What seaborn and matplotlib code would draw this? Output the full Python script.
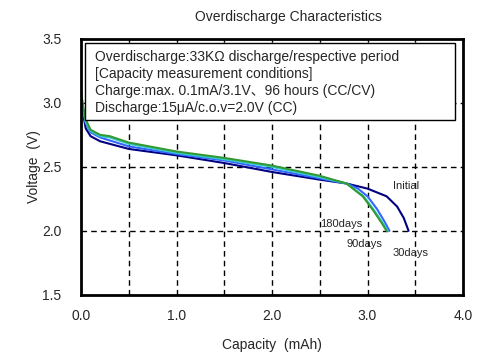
import numpy as np
import pandas as pd
import matplotlib
matplotlib.use("Agg")
import matplotlib.pyplot as plt
import seaborn as sns

# capacity (mAh) / voltage (V)
cap_initial = [0, 0.02, 0.05, 0.1, 0.2, 0.5, 1.0, 1.5, 2.0, 2.5, 2.78, 3.0, 3.2, 3.31, 3.38, 3.43]
v_initial = [3.05, 2.92, 2.80, 2.74, 2.70, 2.64, 2.59, 2.53, 2.46, 2.40, 2.37, 2.33, 2.27, 2.19, 2.10, 2.0]
cap_30 = [0, 0.02, 0.05, 0.1, 0.2, 0.5, 1.0, 1.5, 2.0, 2.5, 2.78, 2.9, 3.0, 3.1, 3.18, 3.23]
v_30 = [3.08, 2.95, 2.84, 2.77, 2.73, 2.66, 2.60, 2.55, 2.48, 2.41, 2.37, 2.33, 2.27, 2.17, 2.07, 2.0]
cap_90 = [0, 0.02, 0.05, 0.1, 0.2, 0.3, 0.5, 1.0, 1.5, 2.0, 2.5, 2.78, 2.96, 3.07, 3.16, 3.21]
v_90 = [3.09, 2.96, 2.85, 2.78, 2.74, 2.73, 2.68, 2.61, 2.56, 2.50, 2.42, 2.37, 2.27, 2.16, 2.06, 2.0]
cap_180 = [0, 0.02, 0.05, 0.1, 0.2, 0.3, 0.5, 1.0, 1.5, 2.0, 2.5, 2.78, 2.95, 3.06, 3.15, 3.2]
v_180 = [3.1, 2.98, 2.87, 2.79, 2.75, 2.74, 2.69, 2.62, 2.57, 2.51, 2.43, 2.37, 2.27, 2.16, 2.06, 2.0]

series = ["Initial", "30days", "90days", "180days"]
colors = ["#000080", "#3366ff", "#33cccc", "#339933"]
label_x = [3.40, 3.45, 2.97, 2.72]
label_y = [2.35, 1.83, 1.90, 2.05]

df = pd.concat([
    pd.DataFrame({"cap": cap_initial, "v": v_initial, "s": "Initial"}),
    pd.DataFrame({"cap": cap_30, "v": v_30, "s": "30days"}),
    pd.DataFrame({"cap": cap_90, "v": v_90, "s": "90days"}),
    pd.DataFrame({"cap": cap_180, "v": v_180, "s": "180days"}),
])

sns.set_style("white")
plt.rcParams["font.family"] = ["Liberation Sans", "Noto Sans CJK JP", "DejaVu Sans"]

fig = plt.figure(figsize=(5, 3.6), dpi=100)
ax = fig.add_axes([0.162, 0.181, 0.764, 0.711])

sns.lineplot(data=df, x="cap", y="v", hue="s", hue_order=series,
             palette=colors, sort=False, lw=1.5, legend=False, ax=ax)

ax.set_xlim(0, 4.0)
ax.set_ylim(1.5, 3.5)
ax.set_xticks(np.arange(0, 4.01, 1.0))
ax.set_xticks(np.arange(0.5, 4.0, 1.0), minor=True)
ax.set_xticklabels(["0.0", "1.0", "2.0", "3.0", "4.0"], fontsize=10)
ax.set_yticks(np.arange(1.5, 3.51, 0.5))
ax.set_yticklabels(["1.5", "2.0", "2.5", "3.0", "3.5"], fontsize=10)
ax.tick_params(which="major", direction="in", length=4, width=1.2, pad=10)
ax.tick_params(which="minor", direction="in", length=2.5, width=1.2)
ax.tick_params(axis="y", pad=14)

for gx in np.arange(0.5, 4.0, 0.5):
    ax.axvline(gx, color="black", ls=(0, (4, 3)), lw=1, zorder=0)
for gy in [2.0, 2.5, 3.0]:
    ax.axhline(gy, color="black", ls=(0, (4, 3)), lw=1, zorder=0)

for sp in ax.spines.values():
    sp.set_color("black")
    sp.set_linewidth(2)

ax.set_xlabel("Capacity  (mAh)", fontsize=10, labelpad=11)
ax.set_ylabel("Voltage  (V)", fontsize=10, labelpad=1)
fig.text(0.576, 0.952, "Overdischarge Characteristics", ha="center", va="center", fontsize=10)

for name, lx, ly in zip(series, label_x, label_y):
    ax.text(lx, ly, name, fontsize=8, ha="center", va="center")

box = plt.Rectangle((0.0105, 0.684), 0.969, 0.30, transform=ax.transAxes,
                    facecolor="white", edgecolor="black", lw=1, zorder=3)
ax.add_patch(box)
info = ("Overdischarge:33K\u03a9 discharge/respective period\n"
        "[Capacity measurement conditions]\n"
        "Charge:max. 0.1mA/3.1V\u300196 hours (CC/CV)\n"
        "Discharge:15\u03bcA/c.o.v=2.0V (CC)")
ax.text(0.036, 0.830, info, transform=ax.transAxes, fontsize=10,
        va="center", ha="left", linespacing=1.25, zorder=4)

fig.savefig("out.png", dpi=100)
